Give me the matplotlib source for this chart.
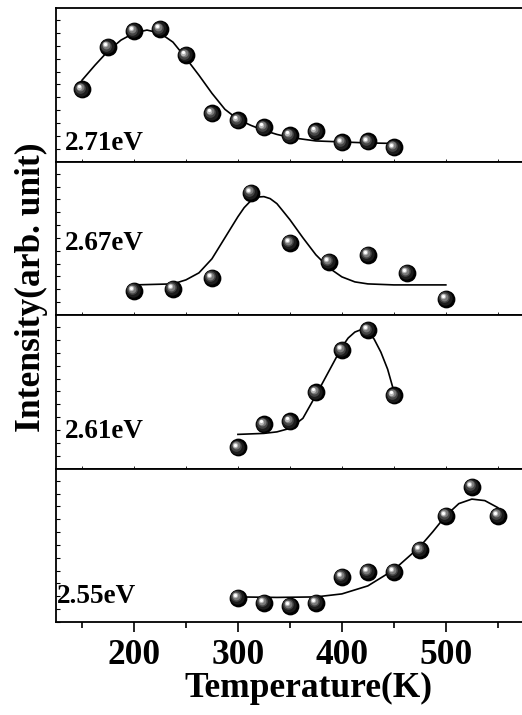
import matplotlib
matplotlib.use('Agg')
import matplotlib.pyplot as plt
from matplotlib.ticker import MultipleLocator
from matplotlib.transforms import ScaledTranslation

plt.rcParams['font.family'] = ['Liberation Serif', 'DejaVu Serif']
plt.rcParams['font.weight'] = 'bold'

# measured points (arb. units)
t_271 = [150, 175, 200, 225, 250, 275, 300, 325, 350, 375, 400, 425, 450]
i_271 = [72, 114, 130, 132, 106, 48, 41, 34, 26, 30, 19, 20, 14]
t_267 = [200, 237.5, 275, 312.5, 350, 387.5, 425, 462.5, 500]
i_267 = [24, 26, 37, 122, 72, 53, 60, 42, 16]
t_261 = [300, 325, 350, 375, 400, 425, 450]
i_261 = [21, 44, 47, 76, 118, 138, 73]
t_255 = [300, 325, 350, 375, 400, 425, 450, 475, 500, 525, 550]
i_255 = [24, 19, 16, 19, 45, 50, 50, 72, 106, 135, 106]

# fitted curves
ft_271 = [150, 162.5, 175, 187.5, 200, 212.5, 225, 237.5, 250, 262.5, 275, 287.5, 300, 312.5, 325, 337.5, 350, 375, 400, 425, 450]
fi_271 = [81, 96, 110, 121, 128, 131, 128, 119, 103, 86, 68, 52, 42, 36, 31, 27, 24, 20.5, 19.5, 18.5, 18]
ft_267 = [200, 237.5, 250, 262.5, 275, 287.5, 300, 306, 312.5, 318, 325, 331, 337.5, 343, 350, 362.5, 375, 387.5, 400, 412.5, 425, 450, 500]
fi_267 = [30, 31, 35, 42, 56, 77, 98, 107, 114, 117.5, 118, 116, 111, 104, 95, 77, 60, 47, 38, 33, 31, 30, 30]
ft_261 = [300, 325, 337.5, 350, 362.5, 375, 387.5, 400, 406, 412.5, 420, 425, 431, 437.5, 444, 450]
fi_261 = [34, 35, 36.5, 40, 50, 73, 97, 121, 130, 136, 139, 137, 129, 116, 99, 77]
ft_255 = [300, 337.5, 375, 400, 425, 450, 475, 487.5, 500, 512.5, 525, 537.5, 550]
fi_255 = [25, 24.5, 25, 28, 36, 52, 75, 90, 106, 118, 122.5, 121, 114]

panels = [
    ('2.71eV', t_271, i_271, ft_271, fi_271, 150),
    ('2.67eV', t_267, i_267, ft_267, fi_267, 250),
    ('2.61eV', t_261, i_261, ft_261, fi_261, 438),
    ('2.55eV', t_255, i_255, ft_255, fi_255, 603),
]

W, H = 522, 715
fig = plt.figure(figsize=(W / 100, H / 100), dpi=100)

ax_left = 56 / W
ax_w = 473 / W
top_px = 8
ph = 153.5

# layered markers to fake a shaded sphere
layers = [(12.8, '#000000', 0, 0), (10.3, '#1c1c1c', -0.5, 0.5), (7.7, '#454545', -1.1, 1.1),
          (5.6, '#7a7a7a', -1.6, 1.6), (3.9, '#b8b8b8', -1.9, 1.9), (2.3, '#ffffff', -2.1, 2.1)]

axes = []
for k, (lab, t, y, ft, fy, base) in enumerate(panels):
    bottom = 1 - (top_px + ph * (k + 1)) / H
    ax = fig.add_axes([ax_left, bottom, ax_w, ph / H])
    axes.append(ax)
    ax.plot(ft, fy, color='black', lw=1.2, zorder=2)
    for ms, c, dx, dy in layers:
        tr = ax.transData + ScaledTranslation(dx / 72, dy / 72, fig.dpi_scale_trans)
        ax.plot(t, y, 'o', ms=ms, color=c, mec='none', transform=tr, zorder=3)
    ax.set_xlim(125, 580)
    ax.set_ylim(0, 153)
    ax.yaxis.set_major_locator(MultipleLocator(12.8))
    ax.tick_params(axis='y', direction='in', length=3, width=0.8, labelleft=False)
    ax.spines['right'].set_visible(False)
    for s in ['left', 'top', 'bottom']:
        ax.spines[s].set_linewidth(1.3)
    ax.xaxis.set_major_locator(MultipleLocator(100))
    ax.xaxis.set_minor_locator(MultipleLocator(50))
    if k < 3:
        ax.tick_params(axis='x', which='both', direction='in', length=2, width=0.6, labelbottom=False)
    else:
        ax.tick_params(axis='x', which='major', direction='out', length=7, width=1.2, pad=5, labelsize=25.5)
        ax.tick_params(axis='x', which='minor', direction='out', length=4, width=1.2)
        for lbl in ax.get_xticklabels():
            lbl.set_fontweight('bold')
    fig.text((65 if k < 3 else 57) / W, 1 - base / H, lab, fontsize=19.5, fontweight='bold', va='baseline', ha='left')

fig.text(308 / W, 1 - 688 / H, 'Temperature(K)', fontsize=25.5, fontweight='bold', ha='center', va='center')
fig.text(31 / W, 1 - 287 / H, 'Intensity(arb. unit)', fontsize=25.5, fontweight='bold', ha='center', va='center', rotation=90)

fig.savefig('out.png', dpi=100)
